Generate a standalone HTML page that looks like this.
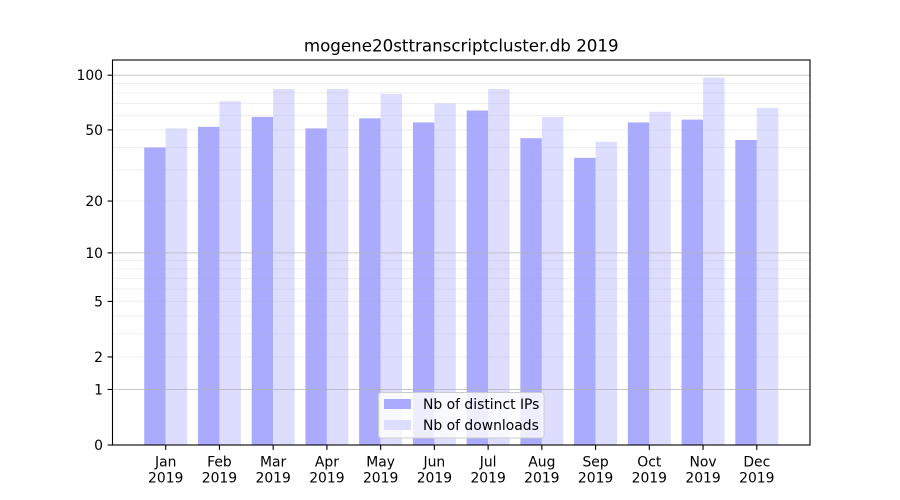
<!DOCTYPE html>
<html><head><meta charset="utf-8"><style>
html,body{margin:0;padding:0;background:#fff;}
svg{display:block;font-family:"DejaVu Sans","Liberation Sans",sans-serif;}
</style></head><body>
<svg width="900" height="500" viewBox="0 0 900 500" xmlns="http://www.w3.org/2000/svg">
<rect width="900" height="500" fill="#fff"/>
<!-- bars -->
<g>
<rect x="144.21" y="147.44" width="21.49" height="297.56" fill="#aaaaff"/>
<rect x="165.70" y="128.40" width="21.49" height="316.60" fill="#ddddff"/>
<rect x="197.95" y="126.87" width="21.49" height="318.13" fill="#aaaaff"/>
<rect x="219.44" y="101.20" width="21.49" height="343.80" fill="#ddddff"/>
<rect x="251.68" y="116.90" width="21.49" height="328.10" fill="#aaaaff"/>
<rect x="273.17" y="89.00" width="21.49" height="356.00" fill="#ddddff"/>
<rect x="305.42" y="128.40" width="21.49" height="316.60" fill="#aaaaff"/>
<rect x="326.91" y="89.00" width="21.49" height="356.00" fill="#ddddff"/>
<rect x="359.15" y="118.30" width="21.49" height="326.70" fill="#aaaaff"/>
<rect x="380.64" y="93.90" width="21.49" height="351.10" fill="#ddddff"/>
<rect x="412.89" y="122.46" width="21.49" height="322.54" fill="#aaaaff"/>
<rect x="434.38" y="103.44" width="21.49" height="341.56" fill="#ddddff"/>
<rect x="466.63" y="110.50" width="21.49" height="334.50" fill="#aaaaff"/>
<rect x="488.12" y="89.00" width="21.49" height="356.00" fill="#ddddff"/>
<rect x="520.36" y="138.20" width="21.49" height="306.80" fill="#aaaaff"/>
<rect x="541.85" y="116.90" width="21.49" height="328.10" fill="#ddddff"/>
<rect x="574.10" y="157.86" width="21.49" height="287.14" fill="#aaaaff"/>
<rect x="595.59" y="141.80" width="21.49" height="303.20" fill="#ddddff"/>
<rect x="627.83" y="122.46" width="21.49" height="322.54" fill="#aaaaff"/>
<rect x="649.32" y="111.76" width="21.49" height="333.24" fill="#ddddff"/>
<rect x="681.57" y="119.65" width="21.49" height="325.35" fill="#aaaaff"/>
<rect x="703.06" y="77.60" width="21.49" height="367.40" fill="#ddddff"/>
<rect x="735.31" y="139.98" width="21.49" height="305.02" fill="#aaaaff"/>
<rect x="756.80" y="108.10" width="21.49" height="336.90" fill="#ddddff"/>
</g>
<!-- minor grid -->
<g stroke="#b0b0b0" stroke-opacity="0.2" stroke-width="1">
<line x1="112.5" x2="810" y1="356.97" y2="356.97"/>
<line x1="112.5" x2="810" y1="333.92" y2="333.92"/>
<line x1="112.5" x2="810" y1="316.04" y2="316.04"/>
<line x1="112.5" x2="810" y1="301.43" y2="301.43"/>
<line x1="112.5" x2="810" y1="289.08" y2="289.08"/>
<line x1="112.5" x2="810" y1="278.38" y2="278.38"/>
<line x1="112.5" x2="810" y1="268.94" y2="268.94"/>
<line x1="112.5" x2="810" y1="260.50" y2="260.50"/>
<line x1="112.5" x2="810" y1="201.05" y2="201.05"/>
<line x1="112.5" x2="810" y1="169.84" y2="169.84"/>
<line x1="112.5" x2="810" y1="147.44" y2="147.44"/>
<line x1="112.5" x2="810" y1="129.95" y2="129.95"/>
<line x1="112.5" x2="810" y1="115.61" y2="115.61"/>
<line x1="112.5" x2="810" y1="103.44" y2="103.44"/>
<line x1="112.5" x2="810" y1="92.88" y2="92.88"/>
<line x1="112.5" x2="810" y1="83.56" y2="83.56"/>
</g>
<!-- major grid -->
<g stroke="#b0b0b0" stroke-opacity="0.7" stroke-width="1">
<line x1="112.5" x2="810" y1="389.46" y2="389.46"/>
<line x1="112.5" x2="810" y1="252.86" y2="252.86"/>
<line x1="112.5" x2="810" y1="75.20" y2="75.20"/>
</g>
<!-- axes frame -->
<rect x="112.5" y="60" width="697.5" height="385" fill="none" stroke="#000" stroke-width="1.1"/>
<!-- y ticks -->
<g stroke="#000" stroke-width="1.1">
<line x1="107.6" x2="112.5" y1="445" y2="445"/>
<line x1="107.6" x2="112.5" y1="389.46" y2="389.46"/>
<line x1="107.6" x2="112.5" y1="356.97" y2="356.97"/>
<line x1="107.6" x2="112.5" y1="301.43" y2="301.43"/>
<line x1="107.6" x2="112.5" y1="252.86" y2="252.86"/>
<line x1="107.6" x2="112.5" y1="201.05" y2="201.05"/>
<line x1="107.6" x2="112.5" y1="129.95" y2="129.95"/>
<line x1="107.6" x2="112.5" y1="75.20" y2="75.20"/>
</g>
<g font-size="13.9" fill="#000" text-anchor="end">
<text x="103" y="450">0</text>
<text x="103" y="394.5">1</text>
<text x="103" y="362">2</text>
<text x="103" y="306.5">5</text>
<text x="103" y="258">10</text>
<text x="103" y="206">20</text>
<text x="103" y="135">50</text>
<text x="103" y="80.2">100</text>
</g>
<!-- x ticks -->
<g stroke="#000" stroke-width="1.1">
<line x1="165.70" x2="165.70" y1="445" y2="449.9"/>
<line x1="219.44" x2="219.44" y1="445" y2="449.9"/>
<line x1="273.17" x2="273.17" y1="445" y2="449.9"/>
<line x1="326.91" x2="326.91" y1="445" y2="449.9"/>
<line x1="380.64" x2="380.64" y1="445" y2="449.9"/>
<line x1="434.38" x2="434.38" y1="445" y2="449.9"/>
<line x1="488.12" x2="488.12" y1="445" y2="449.9"/>
<line x1="541.85" x2="541.85" y1="445" y2="449.9"/>
<line x1="595.59" x2="595.59" y1="445" y2="449.9"/>
<line x1="649.32" x2="649.32" y1="445" y2="449.9"/>
<line x1="703.06" x2="703.06" y1="445" y2="449.9"/>
<line x1="756.80" x2="756.80" y1="445" y2="449.9"/>
</g>
<g font-size="13.9" fill="#000" text-anchor="middle">
<text x="165.70" y="466.5">Jan</text><text x="165.70" y="482.5">2019</text>
<text x="219.44" y="466.5">Feb</text><text x="219.44" y="482.5">2019</text>
<text x="273.17" y="466.5">Mar</text><text x="273.17" y="482.5">2019</text>
<text x="326.91" y="466.5">Apr</text><text x="326.91" y="482.5">2019</text>
<text x="380.64" y="466.5">May</text><text x="380.64" y="482.5">2019</text>
<text x="434.38" y="466.5">Jun</text><text x="434.38" y="482.5">2019</text>
<text x="488.12" y="466.5">Jul</text><text x="488.12" y="482.5">2019</text>
<text x="541.85" y="466.5">Aug</text><text x="541.85" y="482.5">2019</text>
<text x="595.59" y="466.5">Sep</text><text x="595.59" y="482.5">2019</text>
<text x="649.32" y="466.5">Oct</text><text x="649.32" y="482.5">2019</text>
<text x="703.06" y="466.5">Nov</text><text x="703.06" y="482.5">2019</text>
<text x="756.80" y="466.5">Dec</text><text x="756.80" y="482.5">2019</text>
</g>
<!-- title -->
<text x="461.25" y="51.5" font-size="16.7" text-anchor="middle" fill="#000">mogene20sttranscriptcluster.db 2019</text>
<!-- legend -->
<rect x="378.5" y="392.5" width="165.5" height="45.5" rx="2.8" ry="2.8" fill="#fff" fill-opacity="0.8" stroke="#cccccc" stroke-width="1"/>
<rect x="384" y="399" width="27" height="10" fill="#aaaaff"/>
<rect x="384" y="420" width="27" height="10" fill="#ddddff"/>
<g font-size="13.9" fill="#000">
<text x="423" y="409">Nb of distinct IPs</text>
<text x="423" y="430">Nb of downloads</text>
</g>
</svg>
</body></html>
